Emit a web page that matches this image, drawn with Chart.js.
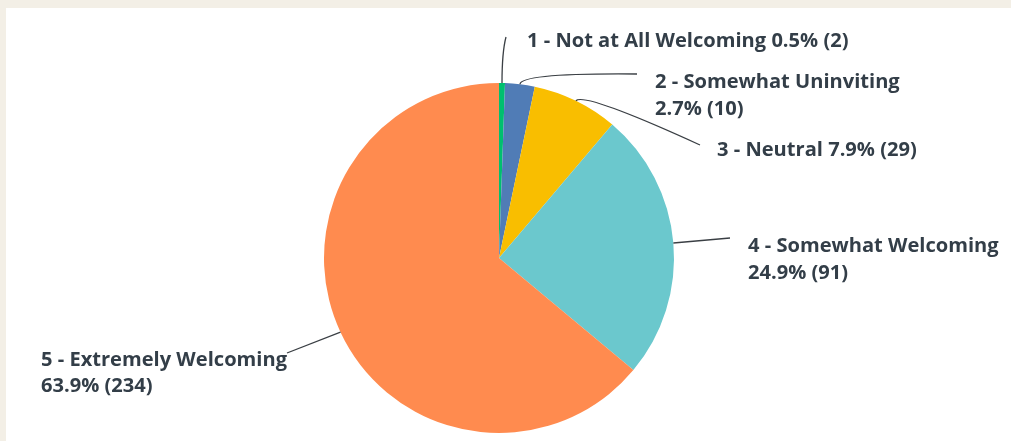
<!DOCTYPE html>
<html>
<head>
<meta charset="utf-8">
<script src="https://cdn.jsdelivr.net/npm/chart.js@4.4.1/dist/chart.umd.min.js"></script>
<style>
  html, body { margin: 0; padding: 0; background: #f3efe6; }
  #wrap { position: absolute; left: 6px; top: 8px; width: 1005px; height: 433px; background: #fff; }
  canvas { display: block; }
</style>
</head>
<body>
<div id="wrap"><canvas id="chart" width="1005" height="433"></canvas></div>
<script>
// Data
const categories = [
  "1 - Not at All Welcoming",
  "2 - Somewhat Uninviting",
  "3 - Neutral",
  "4 - Somewhat Welcoming",
  "5 - Extremely Welcoming"
];
const counts = [2, 10, 29, 91, 234];
const percents = ["0.5%", "2.7%", "7.9%", "24.9%", "63.9%"];
const colors = ["#00bf6f", "#507cb6", "#f9be00", "#6bc8cd", "#ff8b4f"];

// Label layout (canvas coords): text lines, left x, middle y per line, leader path after the slice point
const labelLayout = [
  { lines: [categories[0] + " " + percents[0] + " (" + counts[0] + ")"], x: 521, y: [33],
    path: [[496, 44], [500, 29]] },
  { lines: [categories[1], percents[1] + " (" + counts[1] + ")"], x: 649, y: [74, 101],
    path: [[515, 65], [631, 66]] },
  { lines: [categories[2] + " " + percents[2] + " (" + counts[2] + ")"], x: 711, y: [142],
    path: [[578, 84], [694, 137]] },
  { lines: [categories[3], percents[3] + " (" + counts[3] + ")"], x: 742, y: [238, 265],
    path: [[724, 230]] },
  { lines: [categories[4], percents[4] + " (" + counts[4] + ")"], x: 35, y: [352, 378],
    path: [[281, 345]] }
];

const leaderLabels = {
  id: "leaderLabels",
  afterDatasetsDraw(chart) {
    const ctx = chart.ctx;
    const meta = chart.getDatasetMeta(0);
    ctx.save();
    // size the font so the first label spans the same width as the original
    ctx.font = "bold 18px 'Open Sans'";
    const w = ctx.measureText(labelLayout[0].lines[0]).width;
    const size = Math.round(18 * 322 / w * 10) / 10;
    meta.data.forEach((arc, i) => {
      const lay = labelLayout[i];
      const a = (arc.startAngle + arc.endAngle) / 2;
      const sx = arc.x + Math.cos(a) * arc.outerRadius;
      const sy = arc.y + Math.sin(a) * arc.outerRadius;
      ctx.strokeStyle = "#3a3f44";
      ctx.lineWidth = 1.3;
      ctx.beginPath();
      ctx.moveTo(sx, sy);
      if (lay.path.length === 2) {
        ctx.quadraticCurveTo(lay.path[0][0], lay.path[0][1], lay.path[1][0], lay.path[1][1]);
      } else {
        ctx.lineTo(lay.path[0][0], lay.path[0][1]);
      }
      ctx.stroke();

      ctx.fillStyle = "#333e48";
      ctx.font = "bold " + size + "px 'Open Sans'";
      ctx.textBaseline = "middle";
      ctx.textAlign = "left";
      lay.lines.forEach((t, j) => ctx.fillText(t, lay.x, lay.y[j]));
    });
    ctx.restore();
  }
};

new Chart(document.getElementById("chart"), {
  type: "pie",
  data: {
    labels: categories,
    datasets: [{
      data: counts,
      backgroundColor: colors,
      borderWidth: 0
    }]
  },
  options: {
    responsive: false,
    animation: false,
    layout: { padding: { top: 75, bottom: 8, left: 318, right: 337 } },
    plugins: {
      legend: { display: false },
      tooltip: { enabled: false }
    }
  },
  plugins: [leaderLabels]
});
</script>
</body>
</html>
